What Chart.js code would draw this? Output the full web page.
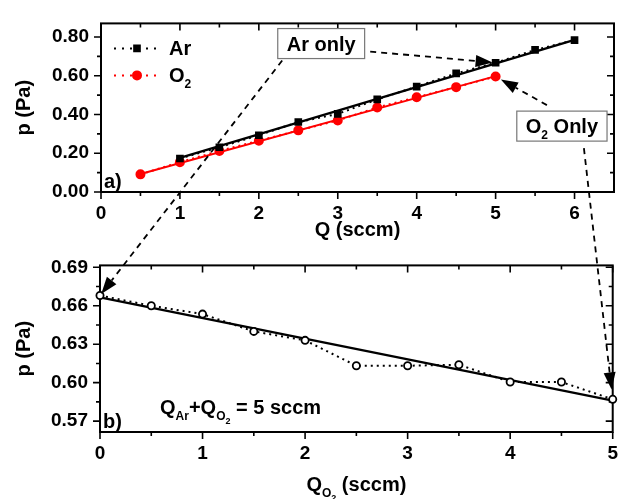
<!DOCTYPE html>
<html>
<head>
<meta charset="utf-8">
<script src="https://cdn.jsdelivr.net/npm/chart.js@4.4.0/dist/chart.umd.min.js"></script>
<style>
  body { margin: 0; background: #fff; }
  #wrap { position: relative; width: 628px; height: 499px; }
  #wrap canvas { position: absolute; left: 0; }
</style>
</head>
<body>
<div id="wrap">
  <canvas id="topChart" width="628" height="242" style="top:0"></canvas>
  <canvas id="bottomChart" width="628" height="257" style="top:242px"></canvas>
  <canvas id="arrows" width="628" height="499" style="top:0;pointer-events:none"></canvas>
</div>
<script>
// panel a) pressure vs flow, one gas at a time
const arQ = [1, 1.5, 2, 2.5, 3, 3.5, 4, 4.5, 5, 5.5, 6];
const arP = [0.173, 0.231, 0.293, 0.361, 0.403, 0.478, 0.544, 0.612, 0.667, 0.733, 0.784];
const o2Q = [0.5, 1, 1.5, 2, 2.5, 3, 3.5, 4, 4.5, 5];
const o2P = [0.091, 0.154, 0.212, 0.264, 0.318, 0.369, 0.436, 0.489, 0.541, 0.596];
const arFitQ = [1, 6];
const arFitP = [0.176, 0.785];
const o2FitQ = [0.5, 5];
const o2FitP = [0.093, 0.598];

// panel b) mixture, total flow kept at 5 sccm
const mixQ = [0, 0.5, 1, 1.5, 2, 2.5, 3, 3.5, 4, 4.5, 5];
const mixP = [0.668, 0.660, 0.6535, 0.640, 0.633, 0.6132, 0.6132, 0.614, 0.6005, 0.6005, 0.587];
const mixFitQ = [0, 5];
const mixFitP = [0.6665, 0.586];

// ticks
const topXTicks = [0, 1, 2, 3, 4, 5, 6];
const topXMinor = [0.5, 1.5, 2.5, 3.5, 4.5, 5.5];
const topYTicks = [0, 0.2, 0.4, 0.6, 0.8];
const topYMinor = [0.1, 0.3, 0.5, 0.7];
const botXTicks = [0, 1, 2, 3, 4, 5];
const botXMinor = [0.5, 1.5, 2.5, 3.5, 4.5];
const botYTicks = [0.57, 0.60, 0.63, 0.66, 0.69];
const botYMinor = [0.585, 0.615, 0.645, 0.675];

const FONT = "'Liberation Sans', Arial, sans-serif";
const pts = (xs, ys) => xs.map((x, i) => ({x: x, y: ys[i]}));

// text with subscripts: parts = [[text, level], ...]
function drawRich(ctx, parts, x, y, size, align) {
  const sz = [size, Math.round(size * 0.6), Math.round(size * 0.45)];
  const off = [0, size * 0.3, size * 0.5];
  let w = 0;
  parts.forEach(p => { ctx.font = 'bold ' + sz[p[1]] + 'px ' + FONT; w += ctx.measureText(p[0]).width; });
  let cx = align === 'center' ? x - w / 2 : x;
  ctx.textBaseline = 'alphabetic';
  ctx.textAlign = 'left';
  parts.forEach(p => {
    ctx.font = 'bold ' + sz[p[1]] + 'px ' + FONT;
    ctx.fillText(p[0], cx, y + off[p[1]]);
    cx += ctx.measureText(p[0]).width;
  });
  return w;
}

const framePlugin = {
  id: 'frame',
  beforeDatasetsDraw(chart, args, opts) {
    const {ctx, chartArea: a, scales: {x, y}} = chart;
    ctx.save();
    ctx.strokeStyle = '#000';
    ctx.lineWidth = 2;
    ctx.strokeRect(a.left, a.top, a.right - a.left, a.bottom - a.top);
    ctx.lineWidth = 1.6;
    const xt = (vals, len) => vals.forEach(v => {
      const p = x.getPixelForValue(v);
      ctx.beginPath();
      ctx.moveTo(p, a.bottom); ctx.lineTo(p, a.bottom + len);
      ctx.moveTo(p, a.top); ctx.lineTo(p, a.top + len);
      ctx.stroke();
    });
    const yt = (vals, len) => vals.forEach(v => {
      const p = y.getPixelForValue(v);
      ctx.beginPath();
      ctx.moveTo(a.left, p); ctx.lineTo(a.left - len, p);
      ctx.moveTo(a.right, p); ctx.lineTo(a.right - len, p);
      ctx.stroke();
    });
    xt(opts.xMajor, 7); xt(opts.xMinor, 4);
    yt(opts.yMajor, 7); yt(opts.yMinor, 4);
    ctx.restore();
  }
};

const textPlugin = {
  id: 'panelText',
  afterDraw(chart, args, opts) {
    const {ctx, chartArea: a} = chart;
    ctx.save();
    ctx.fillStyle = '#000';
    (opts.items || []).forEach(t => {
      drawRich(ctx, t.parts, a.left + t.dx, a.bottom + t.dy, 20, 'left');
    });
    if (opts.xTitle) {
      drawRich(ctx, opts.xTitle, (a.left + a.right) / 2, chart.height - 8, 20, 'center');
    }
    // legend inside plot
    (opts.legend || []).forEach((it, i) => {
      const ds = chart.data.datasets[it.dataset];
      const yy = a.top + 25 + i * 27;
      const x0 = a.left + 13;
      ctx.strokeStyle = ds.borderColor;
      ctx.lineWidth = 2;
      ctx.setLineDash([2, 6]);
      ctx.beginPath();
      ctx.moveTo(x0, yy); ctx.lineTo(x0 + 47, yy);
      ctx.stroke();
      ctx.setLineDash([]);
      ctx.fillStyle = ds.pointBackgroundColor;
      Chart.helpers.drawPoint(ctx, {pointStyle: ds.pointStyle, radius: ds.pointRadius, borderWidth: 1, rotation: 0}, x0 + 23, yy);
      ctx.fillStyle = '#000';
      drawRich(ctx, it.parts, x0 + 55, yy + 7, 20, 'left');
    });
    ctx.restore();
  }
};

const tickFont = {family: FONT, size: 19, weight: 'bold'};
const titleFont = {family: FONT, size: 20, weight: 'bold'};

function axes(xr, yr, xTicks, yTicks, yw, xh, xTitle) {
  return {
    x: {
      type: 'linear', min: xr[0], max: xr[1],
      afterBuildTicks: s => { s.ticks = xTicks.map(v => ({value: v})); },
      afterFit: s => { s.height = xh; },
      grid: {display: false, drawTicks: false},
      border: {display: false},
      ticks: {font: tickFont, color: '#000', padding: 10, maxRotation: 0, callback: v => String(v)},
      title: {display: !!xTitle, text: xTitle, font: titleFont, color: '#000', padding: {top: 0, bottom: 0}}
    },
    y: {
      type: 'linear', min: yr[0], max: yr[1],
      afterBuildTicks: s => { s.ticks = yTicks.map(v => ({value: v})); },
      afterFit: s => { s.width = yw; },
      grid: {display: false, drawTicks: false},
      border: {display: false},
      ticks: {font: tickFont, color: '#000', padding: 12, callback: v => v.toFixed(2)},
      title: {display: true, text: 'p (Pa)', font: titleFont, color: '#000', padding: {top: 12, bottom: 0}}
    }
  };
}

const dotted = [2, 4];

const topChart = new Chart(document.getElementById('topChart'), {
  type: 'scatter',
  data: {
    datasets: [
      {label: 'Ar', data: pts(arQ, arP), showLine: true, borderColor: '#000', borderWidth: 2, borderDash: dotted,
       pointStyle: 'rect', pointRadius: 4, pointBackgroundColor: '#000', pointBorderColor: '#000', clip: false},
      {label: 'Ar fit', data: pts(arFitQ, arFitP), showLine: true, borderColor: '#000', borderWidth: 2.2, pointRadius: 0, clip: false},
      {label: 'O2', data: pts(o2Q, o2P), showLine: true, borderColor: '#ff0000', borderWidth: 2, borderDash: dotted,
       pointStyle: 'circle', pointRadius: 4, pointBackgroundColor: '#ff0000', pointBorderColor: '#ff0000', clip: false},
      {label: 'O2 fit', data: pts(o2FitQ, o2FitP), showLine: true, borderColor: '#ff0000', borderWidth: 2, pointRadius: 0, clip: false}
    ]
  },
  options: {
    responsive: false,
    animation: false,
    layout: {padding: {top: 8, right: 14, left: 0, bottom: 0}},
    scales: axes([0, 6.5], [0, 0.87], topXTicks, topYTicks, 101, 50, 'Q (sccm)'),
    plugins: {
      legend: {display: false},
      tooltip: {enabled: false},
      frame: {xMajor: topXTicks, xMinor: topXMinor, yMajor: topYTicks, yMinor: topYMinor},
      panelText: {
        items: [{parts: [['a)', 0]], dx: 3, dy: -4}],
        legend: [{dataset: 0, parts: [['Ar', 0]]}, {dataset: 2, parts: [['O', 0], ['2', 1]]}]
      }
    }
  },
  plugins: [framePlugin, textPlugin]
});

const bottomChart = new Chart(document.getElementById('bottomChart'), {
  type: 'scatter',
  data: {
    datasets: [
      {label: 'Ar + O2', data: pts(mixQ, mixP), showLine: true, borderColor: '#000', borderWidth: 2, borderDash: dotted,
       pointStyle: 'circle', pointRadius: 3.6, pointBorderWidth: 1.8, pointBackgroundColor: '#fff', pointBorderColor: '#000', clip: false},
      {label: 'fit', data: pts(mixFitQ, mixFitP), showLine: true, borderColor: '#000', borderWidth: 2.2, pointRadius: 0, clip: false}
    ]
  },
  options: {
    responsive: false,
    animation: false,
    layout: {padding: {top: 9, right: 14, left: 0, bottom: 0}},
    scales: axes([0, 5], [0.5615, 0.6915], botXTicks, botYTicks, 100, 67, ''),
    plugins: {
      legend: {display: false},
      tooltip: {enabled: false},
      frame: {xMajor: botXTicks, xMinor: botXMinor, yMajor: botYTicks, yMinor: botYMinor},
      panelText: {
        items: [
          {parts: [['b)', 0]], dx: 3, dy: -4},
          {parts: [['Q', 0], ['Ar', 1], ['+Q', 0], ['O', 1], ['2', 2], [' = 5 sccm', 0]], dx: 60, dy: -18}
        ],
        xTitle: [['Q', 0], ['O', 1], ['2', 2], [' (sccm)', 0]]
      }
    }
  },
  plugins: [framePlugin, textPlugin]
});

// annotation boxes (centre in panel a data units) and dashed arrows
const notes = [
  {parts: [['Ar only', 0]], at: [2.79, 0.766]},
  {parts: [['O', 0], ['2', 1], [' Only', 0]], at: [5.84, 0.34]}
];
const arrows = [
  {note: 0, dx: 49, dy: 8, chart: topChart, top: 0, x: arQ[8], y: arP[8], gap: 3},
  {note: 0, dx: -39, dy: 17, chart: bottomChart, top: 242, x: mixQ[0], y: mixP[0], gap: 2},
  {note: 1, dx: -15, dy: -21, chart: topChart, top: 0, x: o2Q[9], y: o2P[9], gap: 6},
  {note: 1, dx: 22, dy: 22, chart: bottomChart, top: 242, x: mixQ[10], y: mixP[10], gap: 10}
];

function drawNotes() {
  const ctx = document.getElementById('arrows').getContext('2d');
  const centres = notes.map(n => ({
    x: topChart.scales.x.getPixelForValue(n.at[0]),
    y: topChart.scales.y.getPixelForValue(n.at[1])
  }));
  arrows.forEach(a => {
    const c = centres[a.note];
    const sx = c.x + a.dx, sy = c.y + a.dy;
    const ex = a.chart.scales.x.getPixelForValue(a.x);
    const ey = a.top + a.chart.scales.y.getPixelForValue(a.y);
    const ang = Math.atan2(ey - sy, ex - sx);
    const tx = ex - Math.cos(ang) * a.gap, ty = ey - Math.sin(ang) * a.gap;
    const hl = 17, hw = 6;
    const bx = tx - Math.cos(ang) * hl, by = ty - Math.sin(ang) * hl;
    ctx.save();
    ctx.strokeStyle = '#000';
    ctx.lineWidth = 1.8;
    ctx.setLineDash([6, 5]);
    ctx.beginPath();
    ctx.moveTo(sx, sy); ctx.lineTo(bx, by);
    ctx.stroke();
    ctx.setLineDash([]);
    ctx.fillStyle = '#000';
    ctx.beginPath();
    ctx.moveTo(tx, ty);
    ctx.lineTo(bx + Math.sin(ang) * hw, by - Math.cos(ang) * hw);
    ctx.lineTo(bx - Math.sin(ang) * hw, by + Math.cos(ang) * hw);
    ctx.closePath();
    ctx.fill();
    ctx.restore();
  });
  notes.forEach((n, i) => {
    const c = centres[i];
    ctx.save();
    let tw = 0;
    n.parts.forEach(p => { ctx.font = 'bold ' + (p[1] ? 12 : 20) + 'px ' + FONT; tw += ctx.measureText(p[0]).width; });
    const bw = tw + 18, bh = 30;
    ctx.fillStyle = '#fff';
    ctx.fillRect(c.x - bw / 2, c.y - bh / 2, bw, bh);
    ctx.strokeStyle = '#777';
    ctx.lineWidth = 1.2;
    ctx.strokeRect(c.x - bw / 2, c.y - bh / 2, bw, bh);
    ctx.fillStyle = '#000';
    drawRich(ctx, n.parts, c.x, c.y + 7, 20, 'center');
    ctx.restore();
  });
}
drawNotes();
</script>
</body>
</html>
